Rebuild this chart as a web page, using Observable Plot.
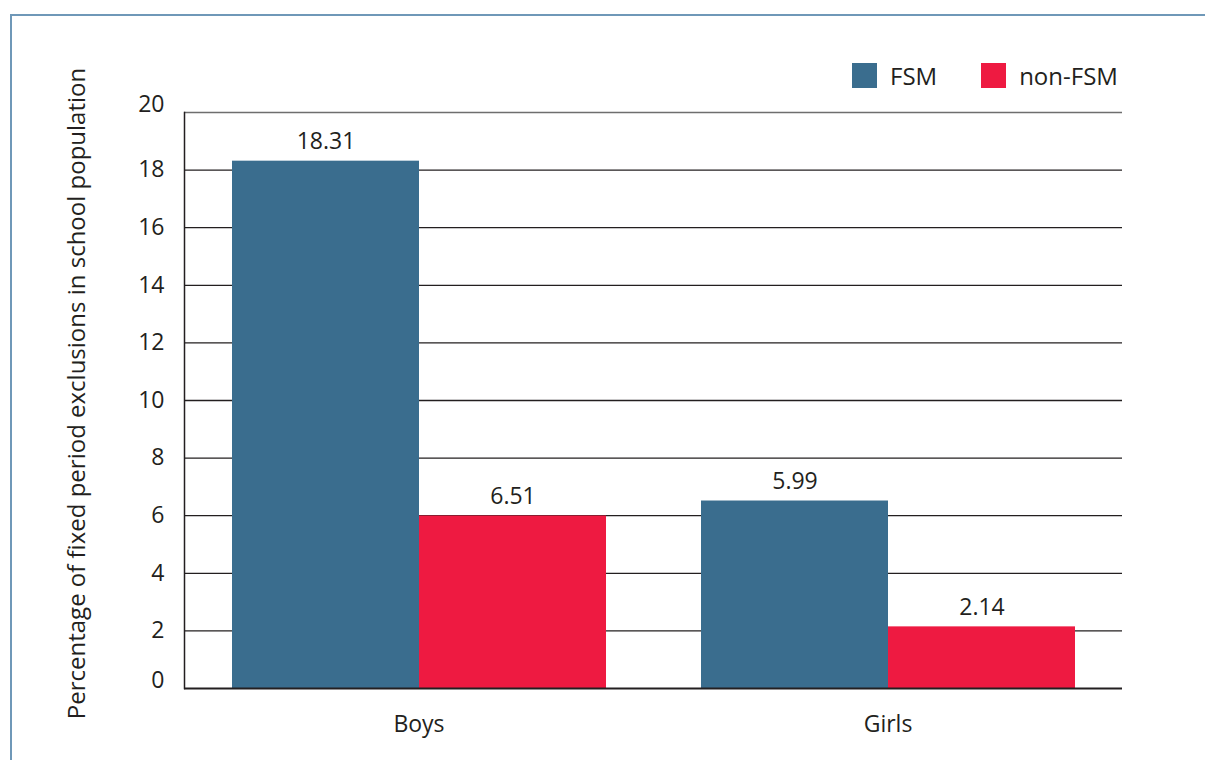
<!DOCTYPE html>
<html>
<head>
<meta charset="utf-8">
<script src="https://cdn.jsdelivr.net/npm/d3@7"></script>
<script src="https://cdn.jsdelivr.net/npm/@observablehq/plot@0.6"></script>
<style>
  html, body { margin: 0; padding: 0; background: #fff; }
  #wrap { position: relative; width: 1205px; height: 760px; overflow: hidden; font-family: "Open Sans", sans-serif; color: #231f20; }
  #frame { position: absolute; left: 10px; top: 14px; right: -10px; bottom: -10px; border-top: 2px solid #6f98b8; border-left: 2px solid #6f98b8; }
  #legend { position: absolute; top: 59px; left: 852px; display: flex; align-items: center; font-size: 24px; }
  .sw { width: 25px; height: 25px; display: inline-block; }
  .item { display: flex; align-items: center; }
  #chart { position: absolute; left: 0; top: 0; }
</style>
</head>
<body>
<div id="wrap">
  <div id="frame"></div>
  <div id="chart"></div>
  <div id="legend"></div>
</div>
<script>
// Data
const groups = ["Boys", "Boys", "Girls", "Girls"];
const series = ["FSM", "non-FSM", "FSM", "non-FSM"];
const values = [18.31, 5.99, 6.51, 2.14];          // bar heights as drawn
const labels = ["18.31", "6.51", "5.99", "2.14"];   // printed labels as shown
const seriesNames = ["FSM", "non-FSM"];
const groupNames = ["Boys", "Girls"];
const colors = ["#3a6d8e", "#ee1a41"];
const yTicks = [0, 2, 4, 6, 8, 10, 12, 14, 16, 18, 20];
const yTitle = "Percentage of fixed period exclusions in school population";

const data = values.map((v, i) => ({group: groups[i], series: series[i], value: v, label: labels[i]}));

const ink = "#231f20";
const chart = Plot.plot({
  width: 1205,
  height: 760,
  marginLeft: 183,
  marginRight: 83,
  marginTop: 112,
  marginBottom: 72,
  style: {fontFamily: "'Open Sans', sans-serif", fontSize: "23px", color: ink, background: "transparent", overflow: "visible"},
  fx: {domain: groupNames, padding: 0, label: null},
  x: {domain: seriesNames, paddingInner: 0, paddingOuter: 0.25, axis: null},
  y: {domain: [0, 20], axis: null},
  color: {domain: seriesNames, range: colors},
  marks: [
    Plot.ruleY(yTicks.filter(d => d > 0 && d < 20), {stroke: ink, strokeWidth: 1.3}),
    Plot.ruleY([20], {stroke: "#6e6e6e", strokeWidth: 1.6}),
    Plot.barY(data, {fx: "group", x: "series", y: "value", fill: "series"}),
    Plot.text(data, {fx: "group", x: "series", y: "value", text: "label", lineAnchor: "bottom", dy: -12, fontSize: 23, fill: ink}),
    Plot.ruleY([0], {stroke: ink, strokeWidth: 2}),
    Plot.frame({anchor: "left", facetAnchor: "left", stroke: ink, strokeWidth: 1.5}),
    Plot.axisY(yTicks.filter(d => d > 0 && d < 20), {label: null, tickSize: 0, tickPadding: 20, fontSize: 23, fill: ink}),
    Plot.axisY([0, 20], {label: null, tickSize: 0, tickPadding: 20, fontSize: 23, fill: ink, dy: -8}),
    Plot.axisFx({anchor: "bottom", label: null, tickSize: 0, tickPadding: 27, fontSize: 23, fill: ink}),
    Plot.text([yTitle], {frameAnchor: "left", textAnchor: "middle", rotate: -90, dx: -107, dy: -7, fontSize: 24, fill: ink, facetAnchor: "left"})
  ]
});
document.getElementById("chart").appendChild(chart);

const legend = document.getElementById("legend");
seriesNames.forEach((s, i) => {
  const item = document.createElement("div");
  item.className = "item";
  item.style.marginRight = i === 0 ? "44px" : "0";
  const sw = document.createElement("span");
  sw.className = "sw";
  sw.style.background = colors[i];
  const t = document.createElement("span");
  t.textContent = s;
  t.style.marginLeft = "13px";
  item.appendChild(sw);
  item.appendChild(t);
  legend.appendChild(item);
});
</script>
</body>
</html>
